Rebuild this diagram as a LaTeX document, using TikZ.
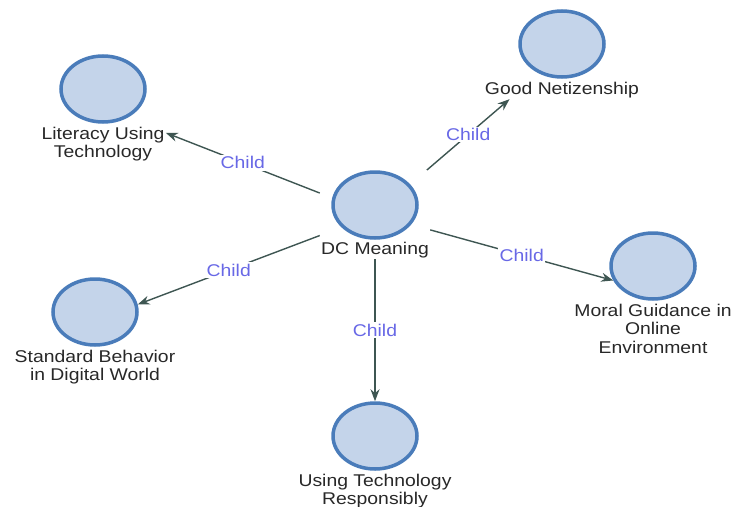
\documentclass[tikz,border=0pt]{standalone}
\usepackage{fontspec}
\setmainfont{Liberation Sans}[FakeStretch=1.14]
\usepackage{tikz}
\usetikzlibrary{arrows.meta,positioning,fit,shapes.geometric}

\definecolor{nodefill}{RGB}{196,212,234}
\definecolor{nodeline}{RGB}{74,124,186}
\definecolor{edgeline}{RGB}{62,86,82}
\definecolor{childtext}{RGB}{104,104,230}
\definecolor{captext}{RGB}{40,40,40}

\begin{document}
\begin{tikzpicture}[x=1pt, y=-1pt, >={Stealth[length=12pt,width=9pt]},
  concept/.style={ellipse, draw=nodeline, line width=3.5pt, fill=nodefill,
    minimum width=84pt, minimum height=66pt},
  caption/.style={align=center, text=captext, inner sep=1pt,
    font=\fontsize{17}{18.5}\selectfont},
  wrap/.style={inner sep=0pt},
  link/.style={->, draw=edgeline, line width=1.4pt},
  tag/.style={fill=white, text=childtext, inner sep=1.5pt,
    font=\fontsize{17}{18.5}\selectfont}]

\useasboundingbox (0,0) rectangle (735,506);

% concepts
\node [concept] (dc) at (375,205) {};
\node [caption, below=1pt of dc] (dc-t) {DC Meaning};

\node [concept] (lit) at (103,89) {};
\node [caption, below=2pt of lit] (lit-t) {Literacy Using\\Technology};

\node [concept] (gn) at (562,44) {};
\node [caption, below=2pt of gn] (gn-t) {Good Netizenship};

\node [concept] (std) at (95,312) {};
\node [caption, below=2pt of std] (std-t) {Standard Behavior\\in Digital World};

\node [concept] (moral) at (653,266) {};
\node [caption, below=2pt of moral] (moral-t) {Moral Guidance in\\Online\\Environment};

\node [concept] (utr) at (375,436) {};
\node [caption, below=2pt of utr] (utr-t) {Using Technology\\Responsibly};

% whole concept with its caption
\node [wrap, fit=(dc)(dc-t)] (dc-box) {};
\node [wrap, fit=(lit)(lit-t)] (lit-box) {};
\node [wrap, fit=(gn)(gn-t)] (gn-box) {};

% links
\draw [link] (dc-box) -- node [tag] {Child} (lit-box);
\draw [link] (dc-box) -- node [tag] {Child} (gn-box);
\draw [link] (dc-box) -- node [tag] {Child} (moral.200);
\draw [link] (dc-box) -- node [tag] {Child} (std.10);
\draw [link] (dc-box) -- node [tag] {Child} (utr);

\end{tikzpicture}
\end{document}
